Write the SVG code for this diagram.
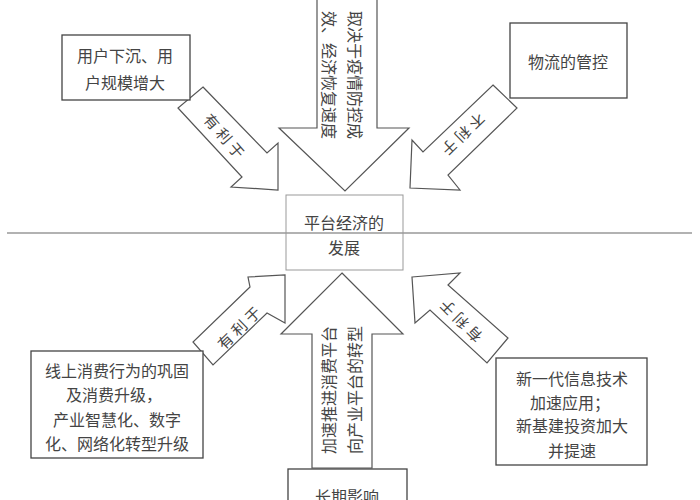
<svg xmlns="http://www.w3.org/2000/svg" width="700" height="500" viewBox="0 0 700 500">
<style>
.box{fill:#fff;stroke:#444;stroke-width:1.3}
.cbox{fill:#fff;stroke:#999;stroke-width:1}
.arr{fill:#fff;stroke:#555;stroke-width:1.2;stroke-linejoin:miter}
text{font-family:"Noto Sans CJK SC","Noto Sans CJK TC",sans-serif;font-size:16px;fill:#444;text-anchor:middle;dominant-baseline:central}
.lab{font-size:15px;letter-spacing:4px}
</style>
<rect width="700" height="500" fill="#fff"/>
<g id="connectors">
  <g id="arrow-top">
    <polygon class="arr" points="317,-2 377,-2 377,128 409,128 345,191 279,128 317,128"/>
    <g transform="translate(343,75) rotate(90)">
      <text x="0" y="-13">取决于疫情防控成</text>
      <text x="0" y="13">效、经济恢复速度</text>
    </g>
  </g>
  <g id="arrow-top-left">
    <polygon class="arr" points="203,87 267,153 278,143 278,190 231,187 242,177 178,108"/>
    <text class="lab" transform="translate(226,137) rotate(49)">有利于</text>
  </g>
  <g id="arrow-top-right">
    <polygon class="arr" points="493,85 517,108 448,175 460,190 410,188 412,140 423,152"/>
    <text class="lab" transform="translate(462,136) rotate(136)">不利于</text>
  </g>
  <g id="arrow-bottom">
    <polygon class="arr" points="342,273 403,334 372,334 372,468 312,468 312,334 281,334"/>
    <g transform="translate(341,390) rotate(-90)">
      <text x="0" y="-13">加速推进消费平台</text>
      <text x="0" y="13">向产业平台的转型</text>
    </g>
  </g>
  <g id="arrow-bottom-left">
    <polygon class="arr" points="285,275 285,323 267,313 213,365 193,342 250,287 248,277"/>
    <text class="lab" transform="translate(240,326) rotate(-44)">有利于</text>
  </g>
  <g id="arrow-bottom-right">
    <polygon class="arr" points="412,277 460,273 448,285 508,338 487,363 430,310 415,323"/>
    <text class="lab" transform="translate(459,320) rotate(225)">有利于</text>
  </g>
</g>
<g id="node-user">
  <rect class="box" x="62" y="35" width="128" height="65"/>
  <text x="125" y="55">用户下沉、用</text>
  <text x="125" y="82">户规模增大</text>
</g>
<g id="node-logistics">
  <rect class="box" x="510" y="23" width="117" height="75"/>
  <text x="568" y="61">物流的管控</text>
</g>
<g id="node-center">
  <rect class="cbox" x="286" y="195" width="117" height="75"/>
  <text x="344" y="222">平台经济的</text>
  <text x="344" y="247">发展</text>
</g>
<line id="divider" x1="7" y1="233" x2="692" y2="233" stroke="#999" stroke-width="1.5"/>
<g id="node-consumption">
  <rect class="box" x="31" y="351" width="172" height="107"/>
  <text x="117" y="370">线上消费行为的巩固</text>
  <text x="114" y="394">及消费升级，</text>
  <text x="117" y="419">产业智慧化、数字</text>
  <text x="117" y="443">化、网络化转型升级</text>
</g>
<g id="node-tech">
  <rect class="box" x="496" y="358" width="151" height="107"/>
  <text x="572" y="378">新一代信息技术</text>
  <text x="570" y="402">加速应用；</text>
  <text x="572" y="425">新基建投资加大</text>
  <text x="572" y="450">并提速</text>
</g>
<g id="node-longterm">
  <rect class="box" x="288" y="469" width="119" height="45"/>
  <text x="347" y="496">长期影响</text>
</g>
</svg>
